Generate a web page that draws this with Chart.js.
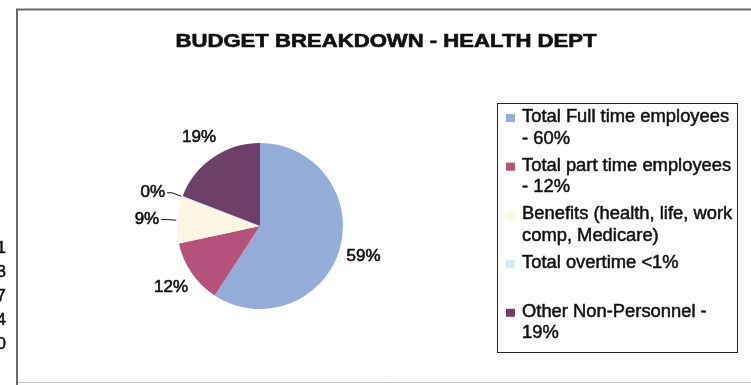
<!DOCTYPE html>
<html><head><meta charset="utf-8">
<script src="https://cdn.jsdelivr.net/npm/chart.js@4/dist/chart.umd.min.js"></script>
<style>
html,body{margin:0;padding:0;background:#fff;}
#wrap{position:relative;width:751px;height:385px;}
canvas{display:block;}
</style></head><body>
<div id="wrap"><canvas id="c" width="751" height="385"></canvas></div>
<script>
const chartTitle = 'BUDGET BREAKDOWN - HEALTH DEPT';
const categories = [
  ['Total Full time employees', '- 60%'],
  ['Total part time employees', '- 12%'],
  ['Benefits (health, life, work', 'comp, Medicare)'],
  ['Total overtime <1%', ''],
  ['Other Non-Personnel -', '19%']
];
const shares = [59.2, 12.4, 9.0, 0.3, 19.1];
const sliceColors = ['#93acd9', '#b5527c', '#fbf6e1', '#d4e8f6', '#6d3f6a'];
const marginDigits = ['1', '3', '7', '4', '0'];

const FONT = '"Liberation Sans", Arial, sans-serif';

function heavyText(ctx, txt, x, y) {
  ctx.fillText(txt, x, y);
  ctx.strokeText(txt, x, y);
}

const decorPlugin = {
  id: 'decor',
  afterDraw(chart) {
    const ctx = chart.ctx;
    ctx.save();
    // outer frame
    ctx.strokeStyle = '#6a6a6a';
    ctx.lineWidth = 2;
    ctx.beginPath();
    ctx.moveTo(17, 385); ctx.lineTo(17, 9.5); ctx.lineTo(751, 9.5);
    ctx.stroke();
    ctx.strokeStyle = '#c4c4c4';
    ctx.lineWidth = 1;
    ctx.beginPath();
    ctx.moveTo(18, 382.5); ctx.lineTo(751, 382.5);
    ctx.stroke();

    // title
    ctx.fillStyle = '#111';
    ctx.strokeStyle = '#111';
    ctx.lineWidth = 0.6;
    ctx.font = 'bold 18px ' + FONT;
    ctx.textAlign = 'center';
    ctx.textBaseline = 'alphabetic';
    const tw = ctx.measureText(chartTitle).width;
    ctx.save();
    ctx.translate(386, 47);
    ctx.scale(421 / tw, 1);
    heavyText(ctx, chartTitle, 0, 0);
    ctx.restore();

    // cut-off digits at the left margin
    ctx.lineWidth = 0.5;
    ctx.font = '17px ' + FONT;
    ctx.textAlign = 'right';
    ctx.textBaseline = 'middle';
    marginDigits.forEach((d, i) => heavyText(ctx, d, 6, 248 + i * 24));

    // slice labels
    const meta = chart.getDatasetMeta(0);
    const data = chart.data.datasets[0].data;
    const total = data.reduce((a, b) => a + b, 0);
    ctx.font = '17px ' + FONT;
    meta.data.forEach((el, i) => {
      const { x, y, startAngle, endAngle, outerRadius } = el.getProps(['x', 'y', 'startAngle', 'endAngle', 'outerRadius'], true);
      const mid = (startAngle + endAngle) / 2;
      const c = Math.cos(mid), s = Math.sin(mid);
      const txt = Math.round(data[i] / total * 100) + '%';
      ctx.lineWidth = 0.6;
      if (endAngle - startAngle < 0.65) {
        const px = x + (outerRadius + 1) * c, py = y + (outerRadius + 1) * s;
        const ex = px + 10 * c, ey = py + 10 * s;
        const hx = ex - 5;
        ctx.lineWidth = 1;
        ctx.beginPath();
        ctx.moveTo(px, py); ctx.lineTo(ex, ey); ctx.lineTo(hx, ey);
        ctx.stroke();
        ctx.lineWidth = 0.6;
        ctx.textAlign = 'right';
        ctx.textBaseline = 'middle';
        heavyText(ctx, txt, hx - 2, ey);
      } else {
        const r = outerRadius + 25;
        ctx.textAlign = 'center';
        ctx.textBaseline = 'middle';
        heavyText(ctx, txt, x + r * c, y + r * s);
      }
    });

    // legend
    ctx.strokeStyle = '#222';
    ctx.lineWidth = 1;
    ctx.strokeRect(497.5, 103.5, 240, 249);
    ctx.font = '18px ' + FONT;
    ctx.textAlign = 'left';
    ctx.textBaseline = 'alphabetic';
    const colors = chart.data.datasets[0].backgroundColor;
    chart.data.labels.forEach((lines, i) => {
      const base = 122 + i * 48.7;
      ctx.fillStyle = colors[i];
      ctx.fillRect(506, base - 8, 9, 8);
      ctx.fillStyle = '#111';
      ctx.strokeStyle = '#111';
      ctx.lineWidth = 0.5;
      lines.forEach((ln, j) => {
        if (!ln) return;
        const w = ctx.measureText(ln).width;
        ctx.save();
        ctx.translate(522, base + j * 21.5);
        ctx.scale(1.02, 1);
        heavyText(ctx, ln, 0, 0);
        ctx.restore();
      });
    });
    ctx.restore();
  }
};

new Chart(document.getElementById('c'), {
  type: 'pie',
  data: {
    labels: categories,
    datasets: [{
      data: shares,
      backgroundColor: sliceColors,
      borderWidth: 0,
      hoverOffset: 0
    }]
  },
  options: {
    responsive: false,
    devicePixelRatio: 1,
    animation: false,
    events: [],
    radius: 83,
    layout: { padding: { left: 177, right: 408, top: 143, bottom: 76 } },
    plugins: {
      legend: { display: false },
      tooltip: { enabled: false },
      title: { display: false }
    }
  },
  plugins: [decorPlugin]
});
</script>
</body></html>
